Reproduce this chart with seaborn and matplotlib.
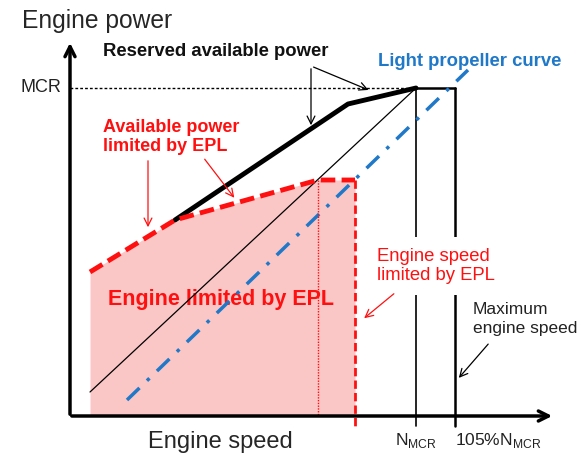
import numpy as np
import pandas as pd
import seaborn as sns
import matplotlib.pyplot as plt

# diagram coordinates (pixel-like, y grows downward)
reserved_x = [175, 348, 416]
reserved_y = [220, 104, 88]

epl_x = [90, 175, 318, 355]
epl_y = [272, 220, 180, 180]

diag_x = [90, 416]
diag_y = [392, 88]

prop_x = [127, 468]
prop_y = [400, 70]

x_nmcr = 416
x_105 = 455
y_mcr = 88
y_base = 416

sns.set_style('white')
plt.rcParams['font.family'] = ['Liberation Sans', 'DejaVu Sans']
plt.rcParams['mathtext.fontset'] = 'custom'
plt.rcParams['mathtext.rm'] = 'Liberation Sans'

fig = plt.figure(figsize=(5.83, 4.54), dpi=100)
ax = fig.add_axes([0, 0, 1, 1])
ax.set_xlim(0, 583)
ax.set_ylim(454, 0)
ax.axis('off')

red = '#ff1010'
blue = '#1f78c8'

# pink area limited by EPL
ax.fill_between(epl_x, epl_y, y_base, color='#fbc6c6', lw=0, zorder=1)

# axes with arrows
ax.annotate('', xy=(70, 40), xytext=(70, y_base + 1),
            arrowprops=dict(arrowstyle='->', lw=2.5, color='black', mutation_scale=18), zorder=6)
ax.annotate('', xy=(555, y_base), xytext=(69, y_base),
            arrowprops=dict(arrowstyle='->', lw=2.5, color='black', mutation_scale=18), zorder=6)

# MCR dotted line and limits
ax.plot([70, x_nmcr], [y_mcr, y_mcr], color='black', lw=1, ls=(0, (2, 1.5)), zorder=2)
ax.plot([x_nmcr, x_105], [y_mcr, y_mcr], color='black', lw=1.8, zorder=2)
ax.plot([x_nmcr, x_nmcr], [y_mcr, 426], color='black', lw=1.2, zorder=2)
ax.plot([x_105, x_105], [y_mcr, 426], color='black', lw=1.8, zorder=2)

# thin diagonal
sns.lineplot(x=diag_x, y=diag_y, color='black', lw=0.9, ax=ax, zorder=3)

# light propeller curve
sns.lineplot(x=prop_x, y=prop_y, color=blue, lw=2.5, ax=ax, zorder=3,
             linestyle=(0, (5, 3, 1, 3)))

# reserved available power (thick black)
sns.lineplot(x=reserved_x, y=reserved_y, color='black', lw=3.5, ax=ax, zorder=4)

# available power limited by EPL (red dashed)
sns.lineplot(x=epl_x, y=epl_y, color=red, lw=3.5, ax=ax, zorder=4,
             linestyle=(0, (3, 1.3)))

# EPL speed limits
ax.plot([318, 318], [epl_y[2], y_base], color=red, lw=1, ls=(0, (1, 1)), zorder=3)
ax.plot([355, 355], [epl_y[3], 426], color=red, lw=2, ls=(0, (3, 1.5)), zorder=3)

# texts
ax.text(22, 21, 'Engine power', fontsize=17.7, va='center', ha='left')
ax.text(148, 442, 'Engine speed', fontsize=17, va='center', ha='left')
ax.text(21, 88, 'MCR', fontsize=13, va='center', ha='left', color='#222222')
ax.text(395, 440, r'N$_{\mathrm{MCR}}$', fontsize=12.5, va='center', ha='left', color='#222222')
ax.text(455, 440, r'105%N$_{\mathrm{MCR}}$', fontsize=12.5, va='center', ha='left', color='#222222')

ax.text(103, 52, 'Reserved available power', fontsize=13.3, fontweight='bold', va='center', ha='left',
        color='#111111')
ax.text(378, 61, 'Light propeller curve', fontsize=13.3, fontweight='bold', va='center', ha='left', color=blue)
ax.text(103, 137, 'Available power\nlimited by EPL', fontsize=13, fontweight='bold', va='center',
        ha='left', color=red, linespacing=1.15)
ax.text(221, 299, 'Engine limited by EPL', fontsize=15.5, fontweight='bold', va='center', ha='center',
        color=red, zorder=2)
ax.text(377, 266, 'Engine speed\nlimited by EPL', fontsize=13.3, va='center', ha='left', color=red,
        linespacing=1.15, zorder=5, bbox=dict(facecolor='white', edgecolor='none', pad=8))
ax.text(473, 319, 'Maximum\nengine speed', fontsize=12.5, va='center', ha='left', color='#222222',
        linespacing=1.27, zorder=5, bbox=dict(facecolor='white', edgecolor='none', pad=1))

# annotation arrows
arr_k = dict(arrowstyle='->', lw=0.9, color='black', mutation_scale=14)
ax.annotate('', xy=(311, 128), xytext=(311, 66), arrowprops=arr_k, zorder=6)
ax.annotate('', xy=(371, 91), xytext=(311, 66), arrowprops=arr_k, zorder=6)
ax.annotate('', xy=(457, 380), xytext=(490, 342), arrowprops=arr_k, zorder=6)

arr_r = dict(arrowstyle='->', lw=0.9, color=red, mutation_scale=14)
ax.annotate('', xy=(148, 230), xytext=(148, 158), arrowprops=arr_r, zorder=6)
ax.annotate('', xy=(236, 200), xytext=(203, 157), arrowprops=arr_r, zorder=6)
ax.annotate('', xy=(362, 320), xytext=(396, 292), arrowprops=arr_r, zorder=6)

fig.savefig('out.png', dpi=100)
